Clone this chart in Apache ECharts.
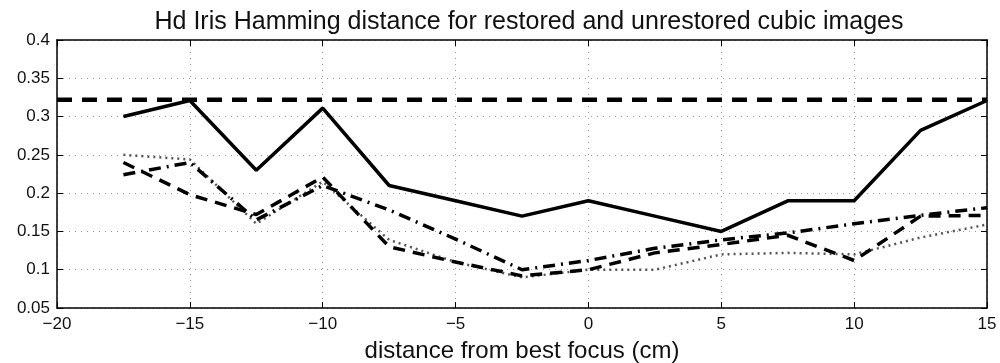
<!DOCTYPE html>
<html>
<head>
<meta charset="utf-8">
<script src="https://cdn.jsdelivr.net/npm/echarts@6/dist/echarts.min.js"></script>
<style>
  html, body { margin: 0; padding: 0; background: #fff; }
  #chart { width: 1000px; height: 363px; }
</style>
</head>
<body>
<div id="chart"></div>
<script>
// distance from best focus (cm)
const xs = [-17.5, -15, -12.5, -10, -7.5, -5, -2.5, 0, 2.5, 5, 7.5, 10, 12.5, 15];

// Hamming distance curves
const solidVals   = [0.30, 0.321, 0.23, 0.311, 0.21, 0.19, 0.17, 0.19, 0.17, 0.15, 0.19, 0.19, 0.282, 0.321];
const dashDotVals = [0.224, 0.24, 0.165, 0.21, 0.178, 0.14, 0.10, 0.112, 0.128, 0.139, 0.148, 0.16, 0.171, 0.181];
const dashedVals  = [0.24, 0.198, 0.172, 0.221, 0.13, 0.11, 0.092, 0.10, 0.122, 0.133, 0.145, 0.112, 0.17, 0.171];
const dottedVals  = [0.25, 0.244, 0.16, 0.215, 0.139, 0.11, 0.09, 0.10, 0.10, 0.12, 0.122, 0.12, 0.142, 0.159];

// horizontal threshold
const thresholdX = [-20, 15];
const thresholdY = 0.322;

// axis ticks
const xTicks = [-20, -15, -10, -5, 0, 5, 10, 15];
const yTicks = [0.05, 0.1, 0.15, 0.2, 0.25, 0.3, 0.35, 0.4];

function pairs(vals) {
    return xs.map((x, i) => [x, vals[i]]);
}

var chartDom = document.getElementById('chart');
var myChart = echarts.init(chartDom);
var font = 'Liberation Sans, Arial, Helvetica, sans-serif';

var gridLine = { show: true, lineStyle: { color: '#9a9a9a', type: [1, 5], width: 1 } };
var frameLine = { show: true, onZero: false, lineStyle: { color: '#000', width: 1.5 } };
var tick = { show: true, inside: true, length: 6, lineStyle: { color: '#000' } };

var option = {
    animation: false,
    title: {
        text: 'Hd Iris Hamming distance for restored and unrestored cubic images',
        left: 524,
        textAlign: 'center',
        top: 5,
        textStyle: { fontFamily: font, fontSize: 25, fontWeight: 'normal', color: '#111' }
    },
    grid: { left: 57, right: 13, top: 40, bottom: 55, outerBoundsMode: 'none', containLabel: false },
    xAxis: [
        {
            type: 'value',
            min: xTicks[0],
            max: xTicks[xTicks.length - 1],
            interval: 5,
            name: 'distance from best focus (cm)',
            nameLocation: 'middle',
            nameGap: 31,
            nameTextStyle: { fontFamily: font, fontSize: 24, color: '#111' },
            axisLine: frameLine,
            axisTick: tick,
            axisLabel: {
                fontFamily: font, fontSize: 17, color: '#111', margin: 8,
                formatter: v => String(v).replace('-', '\u2212')
            },
            splitLine: gridLine
        },
        {
            type: 'value',
            position: 'top',
            min: xTicks[0],
            max: xTicks[xTicks.length - 1],
            interval: 5,
            axisLine: frameLine,
            axisTick: tick,
            axisLabel: { show: false },
            splitLine: { show: false }
        }
    ],
    yAxis: [
        {
            type: 'value',
            min: yTicks[0],
            max: yTicks[yTicks.length - 1],
            interval: 0.05,
            axisLine: frameLine,
            axisTick: tick,
            axisLabel: {
                fontFamily: font, fontSize: 17, color: '#111', margin: 7,
                formatter: v => String(Number(v.toFixed(2)))
            },
            splitLine: gridLine
        },
        {
            type: 'value',
            position: 'right',
            min: yTicks[0],
            max: yTicks[yTicks.length - 1],
            interval: 0.05,
            axisLine: frameLine,
            axisTick: tick,
            axisLabel: { show: false },
            splitLine: { show: false }
        }
    ],
    series: [
        {
            name: 'threshold',
            type: 'line',
            data: thresholdX.map(x => [x, thresholdY]),
            symbol: 'none',
            lineStyle: { color: '#000', width: 4.5, type: [15, 10] },
            z: 5
        },
        {
            name: 'dotted',
            type: 'line',
            data: pairs(dottedVals),
            symbol: 'none',
            lineStyle: { color: '#555', width: 2.5, type: [2, 4] }
        },
        {
            name: 'dash-dot',
            type: 'line',
            data: pairs(dashDotVals),
            symbol: 'none',
            lineStyle: { color: '#000', width: 3.5, type: [12, 6, 2, 6] }
        },
        {
            name: 'dashed',
            type: 'line',
            data: pairs(dashedVals),
            symbol: 'none',
            lineStyle: { color: '#000', width: 3.5, type: [12, 8] }
        },
        {
            name: 'solid',
            type: 'line',
            data: pairs(solidVals),
            symbol: 'none',
            lineStyle: { color: '#000', width: 3.5 }
        }
    ]
};

myChart.setOption(option);
</script>
</body>
</html>
